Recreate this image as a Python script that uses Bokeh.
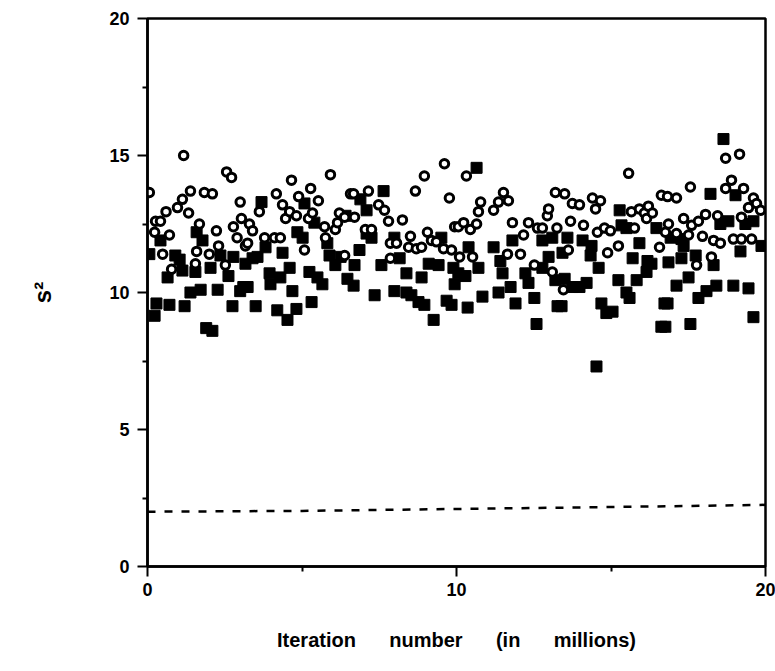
from bokeh.plotting import figure
from bokeh.models import FixedTicker
from bokeh.embed import file_html
from bokeh.resources import INLINE

# Hollow circles (series 1)
circ_x = [0.06, 0.23, 0.26, 0.42, 0.49, 0.6, 0.71, 0.78, 0.97, 1.13, 1.17, 1.33, 1.39, 1.55, 1.59, 1.68,
          1.84, 2.0, 2.1, 2.23, 2.3, 2.52, 2.56, 2.72, 2.78, 2.9, 3.0, 3.04, 3.17, 3.24, 3.3, 3.4, 3.62,
          3.79, 4.11, 4.17, 4.3, 4.37, 4.47, 4.6, 4.66, 4.82, 4.89, 5.08, 5.21, 5.28, 5.34, 5.53, 5.73,
          5.76, 5.92, 6.08, 6.15, 6.21, 6.38, 6.38, 6.57, 6.67, 6.7, 7.05, 7.15, 7.25, 7.48, 7.67, 7.8,
          7.86, 7.86, 8.06, 8.25, 8.45, 8.51, 8.67, 8.7, 8.87, 8.96, 9.06, 9.19, 9.35, 9.58, 9.61, 9.77,
          9.84, 9.94, 10.06, 10.1, 10.23, 10.32, 10.45, 10.52, 10.65, 10.71, 10.78, 11.2, 11.36, 11.52,
          11.65, 11.68, 11.81, 12.07, 12.17, 12.33, 12.52, 12.62, 12.78, 12.94, 12.98, 13.1, 13.2, 13.25,
          13.46, 13.5, 13.62, 13.69, 13.75, 13.98, 14.11, 14.4, 14.5, 14.56, 14.66, 14.79, 14.89, 14.98,
          15.24, 15.57, 15.66, 15.76, 15.92, 16.08, 16.15, 16.21, 16.34, 16.57, 16.63, 16.76, 16.83,
          16.86, 17.12, 17.12, 17.35, 17.51, 17.57, 17.61, 17.77, 17.83, 17.96, 18.06, 18.25, 18.32,
          18.45, 18.54, 18.71, 18.71, 18.9, 18.96, 19.16, 19.22, 19.22, 19.29, 19.45, 19.55, 19.61,
          19.71, 19.84]
circ_y = [13.65, 12.2, 12.6, 12.6, 11.4, 12.95, 12.1, 10.85, 13.1, 13.4, 15.0, 12.9, 13.7, 11.05, 11.5, 12.5,
          13.65, 11.4, 13.6, 12.25, 11.7, 11.0, 14.4, 14.2, 12.4, 12.0, 13.3, 12.7, 11.7, 11.8, 12.5, 12.25, 12.95,
          12.0, 12.0, 13.6, 12.0, 13.2, 12.7, 12.95, 14.1, 12.8, 13.5, 11.55, 12.7, 13.8, 12.9, 13.35, 12.4,
          12.0, 14.3, 12.3, 12.55, 12.9, 12.75, 11.35, 13.6, 13.6, 12.75, 12.3, 13.7, 12.3, 13.2, 13.0, 12.6,
          11.8, 11.25, 11.8, 12.65, 11.65, 12.05, 13.7, 11.6, 11.65, 14.25, 12.2, 11.9, 11.85, 11.6, 14.7, 13.45,
          11.55, 12.4, 12.4, 11.3, 12.55, 14.25, 12.3, 11.3, 12.5, 12.95, 13.3, 13.0, 13.3, 13.65,
          11.4, 13.35, 12.55, 11.4, 12.1, 12.55, 11.0, 12.35, 12.35, 12.8, 13.05, 10.75, 13.65, 12.35,
          10.1, 13.6, 11.55, 12.6, 13.25, 13.2, 12.45, 13.45, 13.05, 12.2, 13.35, 12.35, 11.45, 12.25,
          11.7, 14.35, 12.95, 12.35, 13.05, 12.9, 12.7, 13.15, 12.9, 11.65, 13.55, 12.2, 13.5,
          12.5, 13.45, 12.15, 12.7, 12.1, 13.85, 12.45, 11.0, 12.6, 12.05, 12.85, 11.3, 11.9,
          12.8, 11.8, 14.9, 13.8, 14.1, 11.95, 15.05, 12.75, 11.95, 13.8, 13.1, 11.95, 13.45,
          13.25, 13.0]

# Filled squares (series 2)
sq_x = [0.06, 0.23, 0.29, 0.42, 0.65, 0.71, 0.9, 1.04, 1.13, 1.2, 1.39, 1.55, 1.59, 1.72, 1.78, 1.9, 2.04,
        2.1, 2.27, 2.36, 2.62, 2.75, 2.78, 3.0, 3.1, 3.17, 3.24, 3.4, 3.5, 3.56, 3.69, 3.82, 3.95, 3.98,
        4.2, 4.3, 4.37, 4.53, 4.6, 4.69, 4.82, 4.85, 5.02, 5.08, 5.24, 5.31, 5.4, 5.5, 5.66, 5.82, 5.89,
        6.08, 6.25, 6.41, 6.47, 6.67, 6.7, 6.86, 6.89, 7.09, 7.09, 7.25, 7.35, 7.57, 7.64, 7.99, 7.99,
        8.16, 8.38, 8.38, 8.54, 8.77, 8.87, 8.96, 9.1, 9.26, 9.42, 9.51, 9.68, 9.84, 9.9, 9.94, 10.06,
        10.29, 10.36, 10.39, 10.65, 10.71, 10.84, 11.2, 11.36, 11.42, 11.49, 11.75, 11.81, 11.91, 12.23,
        12.33, 12.52, 12.59, 12.78, 12.78, 12.98, 13.1, 13.2, 13.27, 13.4, 13.43, 13.5, 13.59, 13.75,
        13.98, 14.08, 14.21, 14.34, 14.37, 14.53, 14.6, 14.69, 14.85, 15.05, 15.24, 15.28, 15.34, 15.5,
        15.5, 15.6, 15.7, 15.83, 15.92, 16.15, 16.18, 16.31, 16.47, 16.63, 16.73, 16.76, 16.83, 16.86,
        16.93, 17.12, 17.28, 17.28, 17.35, 17.51, 17.57, 17.74, 17.83, 18.09, 18.22, 18.32, 18.41,
        18.54, 18.64, 18.8, 18.96, 19.03, 19.19, 19.35, 19.45, 19.61, 19.61, 19.87]
sq_y = [11.4, 9.15, 9.6, 11.9, 10.55, 9.55, 11.35, 11.2, 10.8, 9.5, 10.0, 10.75, 12.2, 10.1, 11.9, 8.7, 10.9,
        8.6, 10.1, 11.35, 10.6, 9.5, 11.3, 10.05, 10.2, 11.05, 10.2, 11.25, 9.5, 11.3, 13.3, 11.65, 10.7, 10.3,
        9.35, 10.55, 11.45, 9.0, 10.9, 10.05, 9.4, 12.2, 12.0, 13.25, 10.75, 9.65, 12.55, 10.55, 10.3, 11.8, 11.35,
        11.0, 11.3, 12.8, 10.5, 10.25, 11.0, 11.55, 13.4, 13.0, 12.15, 12.0, 9.9, 11.0, 13.7, 12.0, 10.05,
        11.25, 10.7, 10.0, 9.9, 9.65, 10.55, 9.55, 11.05, 9.0, 11.0, 12.0, 9.7, 9.55, 10.9, 10.3, 10.7,
        10.6, 9.45, 11.65, 14.55, 10.9, 9.85, 11.65, 10.0, 11.15, 10.7, 10.2, 11.9, 9.6, 10.7,
        10.35, 9.8, 8.85, 11.9, 10.9, 11.3, 12.0, 10.45, 9.5, 9.5, 11.45, 10.5, 12.0, 10.2,
        10.2, 11.9, 10.35, 11.35, 11.7, 7.3, 10.9, 9.6, 9.25, 9.3, 10.45, 13.0, 12.45, 12.35,
        10.0, 9.8, 11.25, 10.45, 11.8, 10.75, 11.15, 11.05, 12.35, 8.75, 9.6, 8.75, 9.6, 11.1,
        12.0, 10.25, 11.95, 11.25, 11.7, 10.55, 8.85, 11.35, 9.8, 10.05, 13.6, 11.0, 10.25,
        12.5, 15.6, 12.6, 10.25, 13.55, 11.5, 12.5, 10.15, 12.6, 9.1, 11.7]

# Dashed reference curve
ref_x = [0, 5, 10, 15, 20]
ref_y = [2.0, 2.03, 2.1, 2.17, 2.25]

x_major = [0, 10, 20]
x_minor = [5, 15]
y_major = [0, 5, 10, 15, 20]
y_minor = [2.5, 7.5, 12.5, 17.5]

FONT = "Liberation Sans"

p = figure(x_range=(0, 20), y_range=(0, 20),
           frame_width=618, frame_height=548,
           output_backend="svg", toolbar_location=None,
           min_border_left=147, min_border_right=10, min_border_top=18, min_border_bottom=100)

p.grid.visible = False
p.background_fill_color = "white"
p.border_fill_color = "white"
p.outline_line_color = "black"
p.outline_line_width = 2.5

p.line(ref_x, ref_y, line_color="black", line_width=2.5, line_dash="8 9")

p.scatter(sq_x, sq_y, marker="square", size=11, fill_color="black", line_color="black", line_width=1)
p.scatter(circ_x, circ_y, marker="circle", size=8.5, fill_color="white", line_color="black", line_width=3)

for ax in (p.xaxis[0], p.yaxis[0]):
    ax.axis_line_width = 2.5
    ax.axis_line_color = "black"
    ax.major_tick_line_width = 2
    ax.minor_tick_line_width = 2
    ax.major_tick_in = 0
    ax.minor_tick_in = 0
    ax.major_tick_out = 10
    ax.minor_tick_out = 5
    ax.major_label_text_font = FONT
    ax.major_label_text_font_style = "bold"
    ax.major_label_text_font_size = "18px"
    ax.major_label_text_color = "black"
    ax.axis_label_text_font = FONT
    ax.axis_label_text_font_style = "bold"
    ax.axis_label_text_color = "black"

p.xaxis.ticker = FixedTicker(ticks=x_major, minor_ticks=x_minor)
p.yaxis.ticker = FixedTicker(ticks=y_major, minor_ticks=y_minor)
p.xaxis.major_label_standoff = 6
p.yaxis.major_label_standoff = 8

nb = "\u00a0" * 6
p.xaxis.axis_label = "Iteration" + nb + "number" + nb + "(in" + nb + "millions)"
p.xaxis.axis_label_text_font_size = "20px"
p.xaxis.axis_label_standoff = 30

p.yaxis.axis_label = "s\u00b2"
p.yaxis.axis_label_text_font_size = "24px"
p.yaxis.axis_label_standoff = 50

open("out.html", "w").write(file_html(p, INLINE))
